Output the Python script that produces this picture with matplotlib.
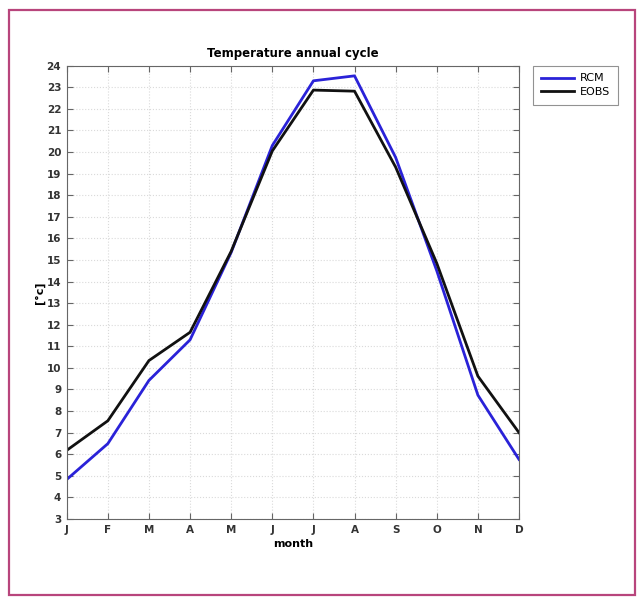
import numpy as np
import matplotlib.pyplot as plt
from matplotlib.patches import Rectangle

# =========================
# DATA
# =========================
months = ["J", "F", "M", "A", "M", "J", "J", "A", "S", "O", "N", "D"]
rcm = [4.83, 6.49, 9.42, 11.30, 15.35, 20.3, 23.3, 23.53, 19.75, 14.5, 8.74, 5.76]
eobs = [6.18, 7.55, 10.34, 11.65, 15.4, 20.05, 22.87, 22.82, 19.3, 14.85, 9.62, 7.0]
yticks = list(range(3, 25))

W, H = 640, 597
fig = plt.figure(figsize=(W / 100, H / 100), dpi=100)

# pink frame around the whole thing
fig.patches.append(Rectangle((9 / W, 1 - 595 / H), (635 - 9) / W, (595 - 10) / H,
                             transform=fig.transFigure, fill=False,
                             edgecolor="#b8457c", linewidth=1.6))

ax = fig.add_axes([66.7 / W, 1 - 519 / H, (519 - 66.7) / W, (519 - 65.7) / H])
x = np.arange(1, 13)
ax.plot(x, rcm, color="#2a22d8", lw=2, label="RCM")
ax.plot(x, eobs, color="#111111", lw=2, label="EOBS")

ax.set_xlim(1, 12)
ax.set_ylim(3, 24)
ax.set_xticks(x)
ax.set_xticklabels(months)
ax.set_yticks(yticks)
ax.grid(True, color="#dadada", linestyle=":", linewidth=0.8)
ax.tick_params(direction="in", top=True, right=True, length=4,
               labelsize=7.5, labelcolor="#333333", color="#666666", pad=4)
for lab in ax.get_xticklabels() + ax.get_yticklabels():
    lab.set_fontweight("bold")
for s in ax.spines.values():
    s.set_color("#666666")
    s.set_linewidth(0.8)

ax.set_title("Temperature annual cycle", fontsize=8.5, fontweight="bold", pad=6)
ax.set_xlabel("month", fontsize=8, fontweight="bold", labelpad=3)
ax.set_ylabel("[°c]", fontsize=8, fontweight="bold", labelpad=1)

leg = ax.legend(loc="upper left", bbox_to_anchor=((533 - 66.7) / (519 - 66.7), 1.0),
                borderaxespad=0.0,
                fontsize=8, frameon=True, fancybox=False, handlelength=3.0,
                borderpad=0.7, labelspacing=0.35, handletextpad=0.5)
leg.get_frame().set_edgecolor("#777777")
leg.get_frame().set_linewidth(0.8)

plt.savefig("out.png", dpi=100)
plt.close()
